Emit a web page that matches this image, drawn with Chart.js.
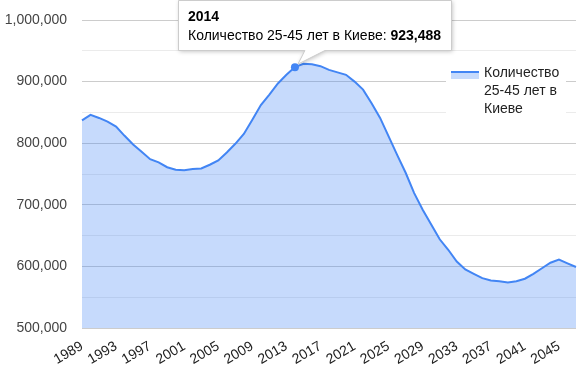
<!DOCTYPE html>
<html>
<head>
<meta charset="utf-8">
<script src="https://cdn.jsdelivr.net/npm/chart.js@4/dist/chart.umd.min.js"></script>
<style>
  body { margin: 0; background: #fff; }
  #wrap { width: 578px; height: 368px; position: relative; }
</style>
</head>
<body>
<div id="wrap"><canvas id="chart"></canvas></div>
<script>
var years = [];
for (var y = 1989; y <= 2047; y++) years.push(String(y));

var counts = [
  837000, 846000, 841000, 835000, 827000, 812000, 798000, 786000, 774000, 769000,
  761000, 757000, 756000, 758000, 759000, 765000, 772000, 785000, 799000, 815000,
  838000, 862000, 879000, 897000, 911000, 923488, 929000, 928000, 925000, 919000,
  915000, 911000, 900000, 887000, 865000, 841000, 811000, 781000, 752000, 719000,
  692000, 668000, 644000, 627000, 608000, 595000, 588000, 581000, 577000, 576000,
  574000, 576000, 580000, 588000, 597000, 606000, 611000, 605000, 599000
];

var seriesName = 'Количество 25-45 лет в Киеве';
var legendLines = ['Количество', '25-45 лет в', 'Киеве'];
var highlightYear = '2014';

var blue = '#4285f4';
var fillBlue = 'rgba(66,133,244,0.3)';
var font = 'Arial, "Liberation Sans", sans-serif';

function fmt(v) {
  return Math.round(v).toLocaleString('en-US');
}

var legendBox = {
  id: 'legendBox',
  afterDraw: function(chart) {
    var ctx = chart.ctx;
    ctx.save();
    ctx.fillStyle = '#fff';
    ctx.fillRect(446, 60, 120, 58);
    ctx.fillStyle = fillBlue;
    ctx.fillRect(451, 72, 28, 7);
    ctx.fillStyle = blue;
    ctx.fillRect(451, 71, 28, 2);
    ctx.fillStyle = '#222';
    ctx.font = '14px ' + font;
    ctx.textBaseline = 'middle';
    legendLines.forEach(function(t, i) {
      ctx.fillText(t, 484, 73 + i * 18);
    });
    ctx.restore();
  }
};

var tipBox = {
  id: 'tipBox',
  afterDraw: function(chart) {
    var idx = years.indexOf(highlightYear);
    var pt = chart.getDatasetMeta(0).data[idx];
    var ctx = chart.ctx;
    var px = pt.x, py = pt.y;
    ctx.save();
    ctx.font = '14px ' + font;
    var label = seriesName + ': ';
    var w1 = ctx.measureText(label).width;
    ctx.font = 'bold 14px ' + font;
    var w2 = ctx.measureText(fmt(counts[idx])).width;
    var left = Math.round(px - 117) + 0.5, top = 0.5, bottom = 50.5;
    var right = Math.round(left + 19 + w1 + w2) + 0.5;

    ctx.shadowColor = 'rgba(0,0,0,0.25)';
    ctx.shadowBlur = 4;
    ctx.shadowOffsetX = 1;
    ctx.shadowOffsetY = 1;
    ctx.fillStyle = '#fff';
    ctx.beginPath();
    ctx.moveTo(left, top);
    ctx.lineTo(right, top);
    ctx.lineTo(right, bottom);
    ctx.lineTo(px + 30, bottom);
    ctx.lineTo(px + 3, py - 3);
    ctx.lineTo(px + 10, bottom);
    ctx.lineTo(left, bottom);
    ctx.closePath();
    ctx.fill();
    ctx.shadowColor = 'transparent';
    ctx.strokeStyle = '#cccccc';
    ctx.lineWidth = 1;
    ctx.stroke();

    ctx.fillStyle = '#000';
    ctx.textBaseline = 'alphabetic';
    ctx.font = 'bold 14px ' + font;
    ctx.fillText(highlightYear, left + 9.5, 21);
    ctx.font = '14px ' + font;
    ctx.fillText(label, left + 9.5, 40);
    ctx.font = 'bold 14px ' + font;
    ctx.fillText(fmt(counts[idx]), left + 9.5 + w1, 40);

    ctx.fillStyle = blue;
    ctx.beginPath();
    ctx.arc(px, py, 4, 0, Math.PI * 2);
    ctx.fill();
    ctx.restore();
  }
};

new Chart(document.getElementById('chart'), {
  type: 'line',
  data: {
    labels: years,
    datasets: [{
      label: seriesName,
      data: counts,
      borderColor: blue,
      backgroundColor: fillBlue,
      borderWidth: 2,
      fill: 'start',
      tension: 0,
      pointRadius: 0
    }]
  },
  options: {
    responsive: true,
    maintainAspectRatio: false,
    animation: false,
    layout: { padding: { top: 20, right: 2, left: 0, bottom: 0 } },
    plugins: {
      legend: { display: false },
      tooltip: { enabled: false }
    },
    scales: {
      x: {
        type: 'category',
        offset: false,
        grid: { display: false },
        border: { display: false },
        afterFit: function(s) {
          s.height = 40;
          s.paddingLeft = 0;
          s.paddingRight = 0;
        },
        ticks: {
          autoSkip: false,
          maxRotation: 30,
          minRotation: 30,
          padding: 2,
          color: '#222',
          font: { family: font, size: 14 },
          callback: function(v, i) {
            return i % 4 === 0 ? years[i] : '';
          }
        }
      },
      y: {
        min: 500000,
        max: 1000000,
        afterFit: function(s) {
          s.width = 82;
          s.paddingTop = 0;
          s.paddingBottom = 0;
        },
        border: { display: false },
        grid: {
          drawTicks: false,
          color: function(c) {
            return c.tick.value % 100000 === 0 ? '#cccccc' : '#ebebeb';
          }
        },
        ticks: {
          stepSize: 50000,
          padding: 15,
          color: '#444',
          font: { family: font, size: 14 },
          callback: function(v) {
            return v % 100000 === 0 ? fmt(v) : '';
          }
        }
      }
    }
  },
  plugins: [legendBox, tipBox]
});
</script>
</body>
</html>
